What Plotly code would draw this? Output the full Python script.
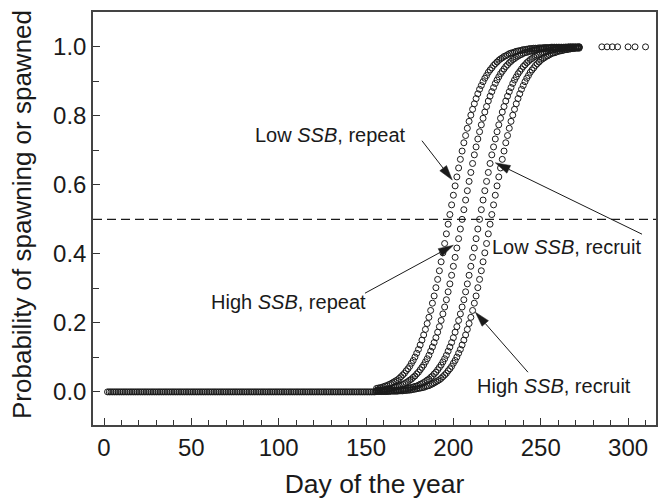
import math
import plotly.graph_objects as go

# ---------------- data ----------------
zero_days = list(range(2, 156))
zero_vals = [0.0] * len(zero_days)

rise_days = list(range(156, 273))

low_repeat = [
    0.010, 0.011, 0.012, 0.013, 0.015, 0.017, 0.018, 0.021, 0.023, 0.026,
    0.029, 0.032, 0.035, 0.039, 0.044, 0.049, 0.054, 0.061, 0.067, 0.074,
    0.083, 0.091, 0.101, 0.112, 0.123, 0.136, 0.150, 0.165, 0.181, 0.198,
    0.216, 0.236, 0.257, 0.278, 0.302, 0.326, 0.351, 0.377, 0.403, 0.430,
    0.458, 0.486, 0.514, 0.542, 0.570, 0.597, 0.623, 0.649, 0.674, 0.698,
    0.722, 0.743, 0.764, 0.784, 0.802, 0.819, 0.835, 0.850, 0.864, 0.877,
    0.888, 0.899, 0.909, 0.917, 0.926, 0.933, 0.939, 0.946, 0.951, 0.956,
    0.961, 0.965, 0.968, 0.972, 0.974, 0.977, 0.980, 0.982, 0.983, 0.985,
    0.987, 0.988, 0.989, 0.990, 0.992, 0.992, 0.993, 0.994, 0.995, 0.995,
    0.996, 0.996, 0.996, 0.997, 0.997, 0.997, 0.998, 0.998, 0.998, 0.998,
    0.999, 0.999, 0.999, 0.999, 0.999, 0.999, 0.999, 0.999, 0.999, 0.999,
    1.000, 1.000, 1.000, 1.000, 1.000, 1.000, 1.000]

high_repeat = [
    0.004, 0.005, 0.005, 0.006, 0.006, 0.007, 0.008, 0.009, 0.010, 0.011,
    0.013, 0.014, 0.016, 0.017, 0.019, 0.022, 0.024, 0.027, 0.030, 0.034,
    0.037, 0.042, 0.046, 0.052, 0.057, 0.064, 0.071, 0.078, 0.087, 0.096,
    0.106, 0.118, 0.130, 0.143, 0.157, 0.173, 0.189, 0.207, 0.226, 0.246,
    0.267, 0.290, 0.313, 0.338, 0.364, 0.390, 0.417, 0.444, 0.472, 0.500,
    0.528, 0.556, 0.583, 0.610, 0.636, 0.662, 0.687, 0.710, 0.733, 0.754,
    0.774, 0.793, 0.811, 0.827, 0.843, 0.857, 0.870, 0.882, 0.894, 0.904,
    0.913, 0.922, 0.929, 0.936, 0.943, 0.948, 0.954, 0.958, 0.963, 0.966,
    0.970, 0.973, 0.976, 0.978, 0.981, 0.983, 0.984, 0.986, 0.987, 0.989,
    0.990, 0.991, 0.992, 0.993, 0.994, 0.994, 0.995, 0.995, 0.996, 0.996,
    0.997, 0.997, 0.997, 0.998, 0.998, 0.998, 0.998, 0.998, 0.999, 0.999,
    0.999, 0.999, 0.999, 0.999, 0.999, 0.999, 1.000]

low_recruit = [
    0.001, 0.002, 0.002, 0.002, 0.002, 0.002, 0.003, 0.003, 0.003, 0.004,
    0.004, 0.005, 0.005, 0.006, 0.006, 0.007, 0.008, 0.009, 0.010, 0.011,
    0.013, 0.014, 0.016, 0.017, 0.019, 0.022, 0.024, 0.027, 0.030, 0.034,
    0.037, 0.042, 0.046, 0.052, 0.057, 0.064, 0.071, 0.078, 0.087, 0.096,
    0.106, 0.118, 0.130, 0.143, 0.157, 0.173, 0.189, 0.207, 0.226, 0.246,
    0.267, 0.290, 0.313, 0.338, 0.364, 0.390, 0.417, 0.444, 0.472, 0.500,
    0.528, 0.556, 0.583, 0.610, 0.636, 0.662, 0.687, 0.710, 0.733, 0.754,
    0.774, 0.793, 0.811, 0.827, 0.843, 0.857, 0.870, 0.882, 0.894, 0.904,
    0.913, 0.922, 0.929, 0.936, 0.943, 0.948, 0.954, 0.958, 0.963, 0.966,
    0.970, 0.973, 0.976, 0.978, 0.981, 0.983, 0.984, 0.986, 0.987, 0.989,
    0.990, 0.991, 0.992, 0.993, 0.994, 0.994, 0.995, 0.995, 0.996, 0.996,
    0.997, 0.997, 0.997, 0.998, 0.998, 0.998, 0.998]

high_recruit = [
    0.001, 0.001, 0.001, 0.001, 0.001, 0.001, 0.001, 0.001, 0.002, 0.002,
    0.002, 0.002, 0.002, 0.003, 0.003, 0.003, 0.004, 0.004, 0.005, 0.005,
    0.006, 0.007, 0.008, 0.009, 0.010, 0.011, 0.012, 0.013, 0.015, 0.017,
    0.018, 0.021, 0.023, 0.026, 0.029, 0.032, 0.035, 0.039, 0.044, 0.049,
    0.054, 0.061, 0.067, 0.074, 0.083, 0.091, 0.101, 0.112, 0.123, 0.136,
    0.150, 0.165, 0.181, 0.198, 0.216, 0.236, 0.257, 0.278, 0.302, 0.326,
    0.351, 0.377, 0.403, 0.430, 0.458, 0.486, 0.514, 0.542, 0.570, 0.597,
    0.623, 0.649, 0.674, 0.698, 0.722, 0.743, 0.764, 0.784, 0.802, 0.819,
    0.835, 0.850, 0.864, 0.877, 0.888, 0.899, 0.909, 0.917, 0.926, 0.933,
    0.939, 0.946, 0.951, 0.956, 0.961, 0.965, 0.968, 0.972, 0.974, 0.977,
    0.980, 0.982, 0.983, 0.985, 0.987, 0.988, 0.989, 0.990, 0.992, 0.992,
    0.993, 0.994, 0.995, 0.995, 0.996, 0.996, 0.996]

late_days = [285, 288, 291, 294, 300, 304, 310]
late_vals = [1.0, 1.0, 1.0, 1.0, 1.0, 1.0, 1.0]

x_ticks = [0, 50, 100, 150, 200, 250, 300]
y_ticks = [0.0, 0.2, 0.4, 0.6, 0.8, 1.0]
y_ticklabels = ["0.0", "0.2", "0.4", "0.6", "0.8", "1.0"]

# ---------------- layout constants ----------------
W, H = 667, 499
ML, MR, MT, MB = 93, 11, 12, 74
XR = [-6.3, 316]
YR = [-0.096, 1.101]
FONT = "Liberation Sans, Arial, Helvetica, sans-serif"
INK = "#1a1a1a"

marker = dict(symbol="circle-open", size=6, color=INK, line=dict(width=1, color=INK))

fig = go.Figure()
fig.add_trace(go.Scatter(x=zero_days, y=zero_vals, mode="markers", marker=marker, showlegend=False))
for vals in (high_recruit, low_recruit, high_repeat, low_repeat):
    fig.add_trace(go.Scatter(x=rise_days, y=vals, mode="markers", marker=marker, showlegend=False))
fig.add_trace(go.Scatter(x=late_days, y=late_vals, mode="markers", marker=marker, showlegend=False))

# dashed 0.5 reference line
fig.add_shape(type="line", xref="paper", yref="y", x0=0, x1=1, y0=0.5, y1=0.5,
              line=dict(color=INK, width=1.2, dash="9px,5px"))

# ---------------- annotations ----------------
sx = (W - ML - MR) / (XR[1] - XR[0])
sy = (H - MT - MB) / (YR[1] - YR[0])


def arrow(tail, tip, L=15.0, Wd=8.5):
    x0, y0 = tail[0] * sx, tail[1] * sy
    x1, y1 = tip[0] * sx, tip[1] * sy
    dx, dy = x1 - x0, y1 - y0
    n = math.hypot(dx, dy)
    ux, uy = dx / n, dy / n
    bx, by = x1 - L * ux, y1 - L * uy
    px, py = -uy, ux
    v1 = ((bx + Wd / 2 * px) / sx, (by + Wd / 2 * py) / sy)
    v2 = ((bx - Wd / 2 * px) / sx, (by - Wd / 2 * py) / sy)
    fig.add_shape(type="line", xref="x", yref="y", x0=tail[0], y0=tail[1],
                  x1=bx / sx, y1=by / sy, line=dict(color=INK, width=1))
    fig.add_shape(type="path", xref="x", yref="y",
                  path=f"M {tip[0]},{tip[1]} L {v1[0]},{v1[1]} L {v2[0]},{v2[1]} Z",
                  fillcolor=INK, line=dict(color=INK, width=0.5))


labels = [
    ("Low <i>SSB</i>, repeat", 129.9, 0.745, (182.0, 0.728), (199.4, 0.614)),
    ("High <i>SSB</i>, repeat", 105.6, 0.260, (149.4, 0.286), (200.0, 0.425)),
    ("Low <i>SSB</i>, recruit", 265.0, 0.420, (308.0, 0.457), (224.0, 0.664)),
    ("High <i>SSB</i>, recruit", 257.6, 0.017, (242.7, 0.057), (212.6, 0.231)),
]
for text, tx, ty, tail, tip in labels:
    fig.add_annotation(x=tx, y=ty, xref="x", yref="y", text=text, showarrow=False,
                       font=dict(family=FONT, size=20, color=INK), bgcolor="rgba(0,0,0,0)")
    arrow(tail, tip)

# y-axis title placed as rotated text
plot_w = W - ML - MR
plot_h = H - MT - MB
fig.add_annotation(x=(22 - ML) / plot_w, y=(H - MB - 215) / plot_h, xref="paper", yref="paper",
                   text="Probability of spawning or spawned", textangle=-90, showarrow=False,
                   xanchor="center", yanchor="middle",
                   font=dict(family=FONT, size=26, color=INK))

axis_common = dict(
    showgrid=False, zeroline=False, showline=True, mirror=True,
    linecolor="#444", linewidth=1.5, ticks="inside", tickcolor="#333",
    tickwidth=1, tickfont=dict(family=FONT, size=24, color=INK),
)

fig.update_xaxes(range=XR, tickvals=x_ticks, ticklen=7,
                 minor=dict(dtick=10, tick0=0, ticks="inside", ticklen=5, tickcolor="#333"),
                 title=dict(text="Day of the year", font=dict(family=FONT, size=26.5, color=INK), standoff=15),
                 **axis_common)
fig.update_yaxes(range=YR, tickvals=y_ticks, ticktext=y_ticklabels, ticklen=7,
                 minor=dict(dtick=0.1, tick0=0, ticks="inside", ticklen=6, tickcolor="#333"),
                 **axis_common)

fig.update_layout(
    width=W, height=H, margin=dict(l=ML, r=MR, t=MT, b=MB, autoexpand=False),
    paper_bgcolor="white", plot_bgcolor="white", showlegend=False,
)

fig.write_html("out.html")
